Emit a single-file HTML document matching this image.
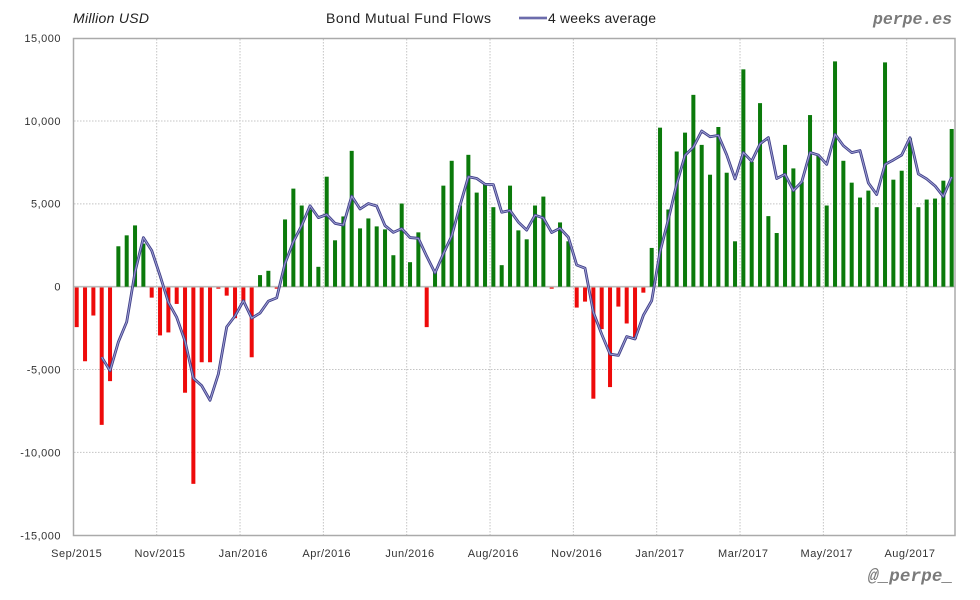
<!DOCTYPE html>
<html>
<head>
<meta charset="utf-8">
<style>
  html,body{margin:0;padding:0;background:#fff;}
  svg{display:block;}
  .ax{font-family:"Liberation Sans",sans-serif;font-size:11px;fill:#333;letter-spacing:0.5px;}
</style>
</head>
<body>
<svg id="c" width="980" height="600" viewBox="0 0 980 600" xmlns="http://www.w3.org/2000/svg">
  <rect x="0" y="0" width="980" height="600" fill="#fff"/>
  <!-- header -->
  <text x="73" y="23" font-family="Liberation Sans, sans-serif" font-size="14" font-style="italic" fill="#222" textLength="76" lengthAdjust="spacing">Million USD</text>
  <text x="326" y="23" font-family="Liberation Sans, sans-serif" font-size="14" fill="#222" textLength="165" lengthAdjust="spacing">Bond Mutual Fund Flows</text>
  <line x1="519" y1="18" x2="547" y2="18" stroke="#3f3f88" stroke-width="2.6"/>
  <line x1="519" y1="18" x2="547" y2="18" stroke="#9a9ad0" stroke-width="0.9"/>
  <text x="548" y="23" font-family="Liberation Sans, sans-serif" font-size="14" fill="#222" textLength="108" lengthAdjust="spacing">4 weeks average</text>
  <text x="873" y="24" font-family="Liberation Mono, monospace" font-size="16.5" font-weight="bold" font-style="italic" fill="#7a7a7a" textLength="79" lengthAdjust="spacing">perpe.es</text>

  <!-- plot background -->
  <rect x="73.5" y="38.5" width="881.5" height="497" fill="#fff"/>
  <g id="grid" stroke="#c4c4c4" stroke-width="1" stroke-dasharray="1.5,1.5"></g>
  <line x1="73.5" y1="286.7" x2="955" y2="286.7" stroke="#bdbdbd" stroke-width="1.6"/>
  <g id="bars"></g>
  <g id="avg"></g>
  <rect x="73.5" y="38.5" width="881.5" height="497" fill="none" stroke="#aaaaaa" stroke-width="1.5"/>

  <!-- y labels -->
  <g class="ax" text-anchor="end">
    <text x="61" y="42">15,000</text>
    <text x="61" y="125">10,000</text>
    <text x="61" y="207.5">5,000</text>
    <text x="61" y="290.7">0</text>
    <text x="61" y="373.5">-5,000</text>
    <text x="61" y="456.3">-10,000</text>
    <text x="61" y="539.5">-15,000</text>
  </g>
  <!-- x labels -->
  <g class="ax" text-anchor="middle">
    <text x="76.7" y="557">Sep/2015</text>
    <text x="160" y="557">Nov/2015</text>
    <text x="243.3" y="557">Jan/2016</text>
    <text x="326.7" y="557">Apr/2016</text>
    <text x="410" y="557">Jun/2016</text>
    <text x="493.3" y="557">Aug/2016</text>
    <text x="576.7" y="557">Nov/2016</text>
    <text x="660" y="557">Jan/2017</text>
    <text x="743.3" y="557">Mar/2017</text>
    <text x="826.7" y="557">May/2017</text>
    <text x="910" y="557">Aug/2017</text>
  </g>
  <text x="868" y="581" font-family="Liberation Mono, monospace" font-size="17.5" font-weight="bold" font-style="italic" fill="#7a7a7a" textLength="85" lengthAdjust="spacing">@_perpe_</text>
</svg>
<script>
(function(){
  var NS="http://www.w3.org/2000/svg";
  var d=[-2440,-4500,-1740,-8340,-5700,2440,3100,3700,2600,-660,
  -2940,-2760,-1040,-6400,-11900,-4560,-4560,-60,-540,-1900,
  -900,-4260,700,960,-100,4060,5920,4900,4660,1200,
  6640,2800,4240,8200,3520,4120,3640,3460,1900,5020,
  1480,3280,-2440,1000,6100,7600,4900,7960,5680,6200,
  4800,1300,6100,3400,2860,4900,5440,-120,3880,2740,
  -1260,-900,-6760,-2560,-6060,-1200,-2220,-3140,-360,2340,
  9600,4660,8160,9300,11580,8560,6760,9640,6880,2740,
  13120,7540,11080,4260,3240,8560,7140,6340,10360,7940,
  4900,13600,7600,6280,5380,5800,4800,13540,6460,7000,
  8960,4800,5260,5320,6400,9520];
  function X(i){return 76.7+8.3333*i;}
  var Z=286.7, K=248.5/15000;
  function Y(v){return Z-v*K;}
  var grid=document.getElementById("grid");
  [10000,5000,-5000,-10000].forEach(function(v){
    var l=document.createElementNS(NS,"line");
    l.setAttribute("x1",74);l.setAttribute("x2",955);
    l.setAttribute("y1",Y(v));l.setAttribute("y2",Y(v));
    grid.appendChild(l);
  });
  for(var k=0;k<10;k++){
    var x=156.7+83.333*k;
    var l=document.createElementNS(NS,"line");
    l.setAttribute("x1",x);l.setAttribute("x2",x);
    l.setAttribute("y1",39);l.setAttribute("y2",535);
    grid.appendChild(l);
  }
  var bars=document.getElementById("bars");
  d.forEach(function(v,i){
    var r=document.createElementNS(NS,"rect");
    var x=X(i)-2;
    var y0,h;
    if(v>=0){y0=Y(v);h=Z-y0;r.setAttribute("fill","#0b7a0b");}
    else{y0=Z+0.8;h=Y(v)-Z-0.8;r.setAttribute("fill","#ee0a0a");}
    if(h<1)h=1.2;
    r.setAttribute("x",x);r.setAttribute("y",y0);
    r.setAttribute("width",4);r.setAttribute("height",h);
    bars.appendChild(r);
  });
  var pts=[];
  for(var i=3;i<d.length;i++){
    var a=(d[i]+d[i-1]+d[i-2]+d[i-3])/4;
    pts.push(X(i).toFixed(2)+","+Y(a).toFixed(2));
  }
  var g=document.getElementById("avg");
  var p1=document.createElementNS(NS,"polyline");
  p1.setAttribute("points",pts.join(" "));
  p1.setAttribute("fill","none");p1.setAttribute("stroke","#3f3f88");
  p1.setAttribute("stroke-width","2.8");p1.setAttribute("stroke-linejoin","round");
  g.appendChild(p1);
  var p2=document.createElementNS(NS,"polyline");
  p2.setAttribute("points",pts.join(" "));
  p2.setAttribute("fill","none");p2.setAttribute("stroke","#a0a0d4");
  p2.setAttribute("stroke-width","1");p2.setAttribute("stroke-linejoin","round");
  g.appendChild(p2);
})();
</script>
</body>
</html>
